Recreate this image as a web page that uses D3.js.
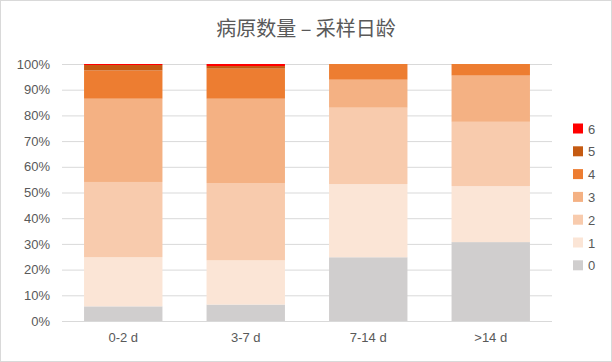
<!DOCTYPE html>
<html>
<head>
<meta charset="utf-8">
<script src="https://cdn.jsdelivr.net/npm/d3@7"></script>
<style>
  body { margin: 0; background: #fff; }
  svg text { font-family: "Liberation Sans", Arial, sans-serif; fill: #595959; }
</style>
</head>
<body>
<div id="chart"></div>
<script>
// categories and series (percent of samples per pathogen count)
var categories = ['0-2 d', '3-7 d', '7-14 d', '>14 d'];
var seriesNames = ['0', '1', '2', '3', '4', '5', '6'];
var s0 = [5.7, 6.4, 24.8, 30.7];
var s1 = [19.1, 17.2, 28.5, 21.8];
var s2 = [29.3, 30.1, 29.7, 25.0];
var s3 = [32.4, 32.8, 10.9, 18.0];
var s4 = [11.0, 11.7, 6.1, 4.5];
var s5 = [2.1, 1.0, 0, 0];
var s6 = [0.4, 0.8, 0, 0];
var yTicks = [0, 0.1, 0.2, 0.3, 0.4, 0.5, 0.6, 0.7, 0.8, 0.9, 1];
var colors = ['#d0cece', '#fbe5d6', '#f8cbad', '#f4b183', '#ed7d31', '#c55a11', '#ff0000'];

var width = 612, height = 362;
var margin = {left: 62, right: 60, top: 64, bottom: 41};

var series = [s0, s1, s2, s3, s4, s5, s6];
var rows = categories.map(function(c, i) {
	var row = {cat: c};
	var total = 0;
	series.forEach(function(s) { total += s[i]; });
	seriesNames.forEach(function(n, k) { row[n] = series[k][i] / total; });
	return row;
});

var stack = d3.stack().keys(seriesNames);
var stacked = stack(rows);

var svg = d3.select('#chart').append('svg')
	.attr('width', width)
	.attr('height', height);

// outer border
svg.append('rect')
	.attr('x', 0.5).attr('y', 0.5)
	.attr('width', width - 1).attr('height', height - 1)
	.attr('fill', '#fff')
	.attr('stroke', '#d9d9d9');

var xScale = d3.scaleBand()
	.domain(categories)
	.range([margin.left, width - margin.right])
	.paddingInner(0.36)
	.paddingOuter(0.18);

var yScale = d3.scaleLinear()
	.domain([0, 1])
	.range([height - margin.bottom, margin.top]);

// gridlines
var yAxis = d3.axisLeft(yScale)
	.tickValues(yTicks)
	.tickFormat(d3.format('.0%'))
	.tickSize(-(width - margin.right - margin.left))
	.tickPadding(12);

var gy = svg.append('g')
	.attr('transform', 'translate(' + margin.left + ',0)')
	.call(yAxis);
gy.select('.domain').remove();
gy.selectAll('.tick line').attr('stroke', '#d9d9d9').attr('stroke-width', 1);
gy.selectAll('.tick text').style('font-size', '13px').attr('fill', '#595959');

// bars
svg.append('g').selectAll('g').data(stacked).enter()
	.append('g')
		.attr('fill', function(d, i) { return colors[i]; })
	.selectAll('rect').data(function(d) { return d; }).enter()
	.append('rect')
		.attr('x', function(d) { return xScale(d.data.cat); })
		.attr('y', function(d) { return yScale(d[1]); })
		.attr('width', xScale.bandwidth())
		.attr('height', function(d) { return yScale(d[0]) - yScale(d[1]); });

// x axis
var xAxis = d3.axisBottom(xScale).tickSize(0).tickPadding(12);
var gx = svg.append('g')
	.attr('transform', 'translate(0,' + (height - margin.bottom) + ')')
	.call(xAxis);
gx.select('.domain').remove();
gx.selectAll('.tick text').style('font-size', '13px').attr('fill', '#595959');

// title
svg.append('text')
	.attr('x', width / 2)
	.attr('y', 36)
	.attr('text-anchor', 'middle')
	.style('font-family', '"Noto Sans CJK SC", sans-serif')
	.style('font-size', '20px')
	.text('病原数量 – 采样日龄');

// legend, top to bottom: 6 ... 0
var legendNames = seriesNames.slice().reverse();
var legend = svg.append('g').selectAll('g').data(legendNames).enter()
	.append('g')
		.attr('transform', function(d, i) { return 'translate(573,' + (128.5 + i * 22.8) + ')'; });

legend.append('rect')
	.attr('x', 0).attr('y', -5)
	.attr('width', 10).attr('height', 10)
	.attr('fill', function(d) { return colors[+d]; });

legend.append('text')
	.attr('x', 15).attr('y', 5)
	.style('font-size', '13px')
	.text(function(d) { return d; });
</script>
</body>
</html>
